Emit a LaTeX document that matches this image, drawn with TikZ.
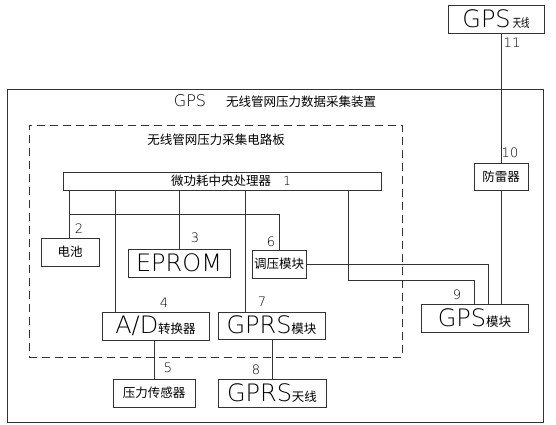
\documentclass[tikz,border=0pt]{standalone}
\usepackage{fontspec}
\setmainfont{Noto Sans CJK SC}
\newfontfamily\thinfont{DejaVu Sans ExtraLight}
\newcommand\bigL[1]{{\thinfont\fontsize{24}{24}\selectfont #1}}
\begin{document}
\begin{tikzpicture}[x=1pt,y=-1pt,
  box/.style={draw=black!80,line width=0.8pt,inner sep=0pt,minimum height=28pt,
    font=\fontsize{12.5}{12.5}\selectfont},
  ln/.style={draw=black!80,line width=0.8pt},
  num/.style={inner sep=0pt,font=\thinfont\fontsize{13}{13}\selectfont},
  zh/.style={inner sep=0pt,font=\fontsize{12.5}{12.5}\selectfont}]
\useasboundingbox (0,0) rectangle (556,424);
% frames
\node[draw=black!80,line width=0.8pt,minimum width=536pt,minimum height=333pt,inner sep=0pt] (outer) at (275,255.5) {};
\node[draw=black!80,line width=0.8pt,dash pattern=on 8pt off 5pt,minimum width=373pt,minimum height=232pt,inner sep=0pt] (board) at (215.5,241) {};
\node[zh] (title) at (275,101) {{\thinfont\fontsize{16}{16}\selectfont GPS}\hspace{20pt}无线管网压力数据采集装置};
\node[zh] (sub) at (216,140) {无线管网压力采集电路板};
% boxes
\node[box,minimum width=96pt] (ant) at (496,19) {\bigL{GPS}\,\raisebox{0.5pt}{\scalebox{0.7}[1]{\fontsize{12}{12}\selectfont 天线}}};
\node[box,minimum width=54pt,minimum height=27pt] (flm) at (501,176.5) {防雷器};
\node[box,minimum width=318pt,minimum height=18pt] (cpu) at (222,181) {};
\node[zh] (cpulbl) at (231,181) {微功耗中央处理器\hspace{12pt}{\thinfont 1}};
\node[box,minimum width=58pt] (bat) at (70,252) {电池};
\node[box,minimum width=102pt] (eprom) at (179,263) {\bigL{EPROM}};
\node[box,minimum width=54pt] (ty) at (279,264) {调压模块};
\node[box,minimum width=107pt] (ad) at (155.5,326) {\bigL{A/D}转换器};
\node[box,minimum width=107pt,minimum height=27pt] (gprs) at (271.5,325.5) {\bigL{GPRS}模块};
\node[box,minimum width=82pt] (press) at (154,393) {压力传感器};
\node[box,minimum width=108pt] (gprsant) at (272,393) {\bigL{GPRS}天线};
\node[box,minimum width=107pt] (gpsmod) at (474.5,318) {\bigL{GPS}模块};
% numbers
\node[num] (n1) at (79,229) {2};
\node[num] (n3) at (195,238) {3};
\node[num] (n4) at (164,303) {4};
\node[num] (n5) at (168,368) {5};
\node[num] (n6) at (271,242) {6};
\node[num] (n7) at (262,302) {7};
\node[num] (n8) at (256,370) {8};
\node[num] (n9) at (457,295) {9};
\node[num] (n10) at (510,153) {10};
\node[num] (n11) at (512,43) {11};
% helper coordinates
\coordinate (j) at (69,214);
\coordinate (xad) at (115,0);
\coordinate (xgprs) at (245,0);
\coordinate (c1) at (348,280);
\coordinate (c2) at (488,0);
% connectors
\draw[ln] (ant.south -| flm) -- (flm.north);
\draw[ln] (flm.south) -- (flm.south |- gpsmod.north);
\draw[ln] (cpu.south -| j) -- (bat.north -| j);
\draw[ln] (j) -| (ty.north);
\draw[ln] (cpu.south -| xad) -- (ad.north -| xad);
\draw[ln] (cpu.south -| eprom) -- (eprom.north);
\draw[ln] (cpu.south -| xgprs) -- (gprs.north -| xgprs);
\draw[ln] (cpu.south -| c1) -- (c1) -| (gpsmod.north);
\draw[ln] (ty.east) -| (c2 |- gpsmod.north);
\draw[ln] (ad.south -| press) -- (press.north);
\draw[ln] (gprs.south -| gprsant) -- (gprsant.north);
\end{tikzpicture}
\end{document}
